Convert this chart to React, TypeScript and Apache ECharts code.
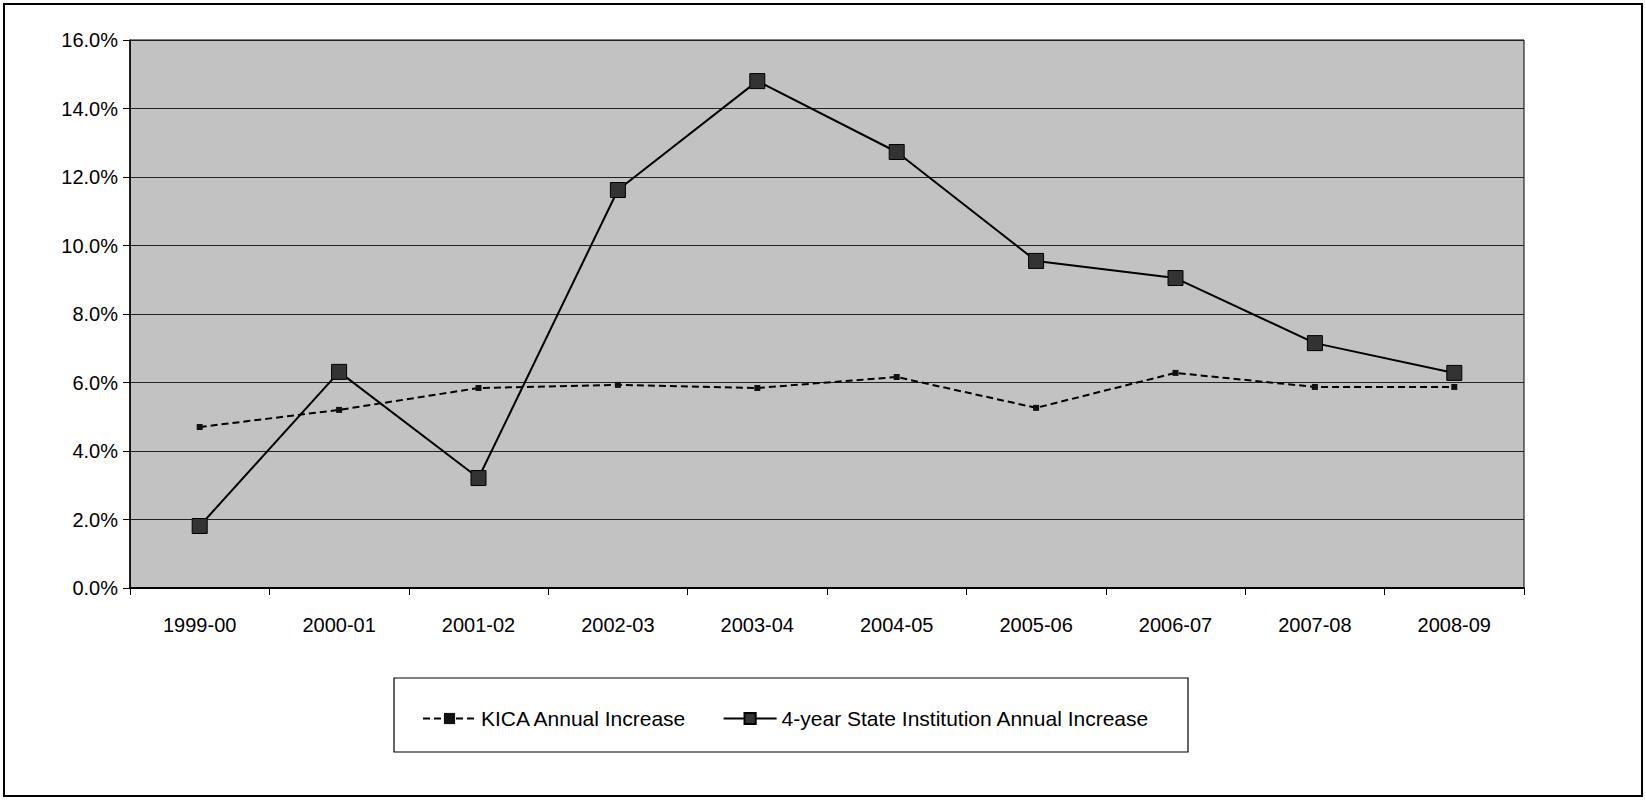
import React, { useEffect, useRef } from "react";
import * as echarts from "echarts";

const categories = ["1999-00", "2000-01", "2001-02", "2002-03", "2003-04", "2004-05", "2005-06", "2006-07", "2007-08", "2008-09"];
const kicaValues = [0.047, 0.052, 0.0584, 0.0593, 0.0584, 0.0616, 0.0526, 0.0628, 0.0587, 0.0587];
const stateValues = [0.0181, 0.0631, 0.0321, 0.1162, 0.148, 0.1273, 0.0955, 0.0905, 0.0715, 0.0628];
const seriesNames = ["KICA Annual Increase", "4-year State Institution Annual Increase"];

export default function App() {
  const ref = useRef<HTMLDivElement>(null);
  useEffect(() => {
    document.body.style.margin = "0";
    if (!ref.current) return;
    const chart = echarts.init(ref.current, null, { renderer: "svg" });
    const font = "Arial, 'Liberation Sans', Helvetica, sans-serif";
    chart.setOption({
      animation: false,
      backgroundColor: "#ffffff",
      textStyle: { fontFamily: font },
      grid: {
        left: 130,
        top: 40,
        width: 1394,
        height: 548,
        show: true,
        backgroundColor: "#c2c2c2",
        borderColor: "#000",
        borderWidth: 1,
        containLabel: false,
      },
      xAxis: {
        type: "category",
        data: categories,
        boundaryGap: true,
        axisLine: { lineStyle: { color: "#000", width: 2 } },
        axisTick: { show: true, length: 7, lineStyle: { color: "#000", width: 1 } },
        axisLabel: { color: "#000", fontSize: 20, margin: 27, fontFamily: font },
        splitLine: { show: false },
      },
      yAxis: {
        type: "value",
        min: 0,
        max: 0.16,
        interval: 0.02,
        axisLine: { show: true, lineStyle: { color: "#000", width: 1.5 } },
        axisTick: { show: true, length: 7, lineStyle: { color: "#000", width: 1 } },
        axisLabel: {
          color: "#000",
          fontSize: 20,
          margin: 12,
          fontFamily: font,
          formatter: (v: number) => (v * 100).toFixed(1) + "%",
        },
        splitLine: { show: true, lineStyle: { color: "#222", width: 1 } },
      },
      legend: {
        left: 417,
        top: 703,
        itemWidth: 53,
        itemHeight: 14,
        itemGap: 35,
        textStyle: { color: "#000", fontSize: 21, fontFamily: font },
        data: seriesNames,
      },
      graphic: [
        {
          type: "rect",
          shape: { x: 4, y: 4, width: 1638, height: 792 },
          style: { fill: "none", stroke: "#000", lineWidth: 2 },
          silent: true,
          z: -1,
        },
        {
          type: "rect",
          shape: { x: 394, y: 678, width: 794, height: 74 },
          style: { fill: "none", stroke: "#000", lineWidth: 1.2 },
          silent: true,
        },
      ],
      series: [
        {
          name: seriesNames[0],
          type: "line",
          data: kicaValues,
          symbol: "rect",
          symbolSize: 6,
          itemStyle: { color: "#111", borderColor: "#000", borderWidth: 0 },
          lineStyle: { color: "#000", width: 2, type: [7, 4] },
          z: 3,
        },
        {
          name: seriesNames[1],
          type: "line",
          data: stateValues,
          symbol: "rect",
          symbolSize: 15,
          itemStyle: { color: "#333", borderColor: "#000", borderWidth: 1 },
          lineStyle: { color: "#000", width: 2 },
          z: 4,
        },
      ],
    });
    return () => chart.dispose();
  }, []);
  return <div ref={ref} style={{ width: 1646, height: 800 }} />;
}
